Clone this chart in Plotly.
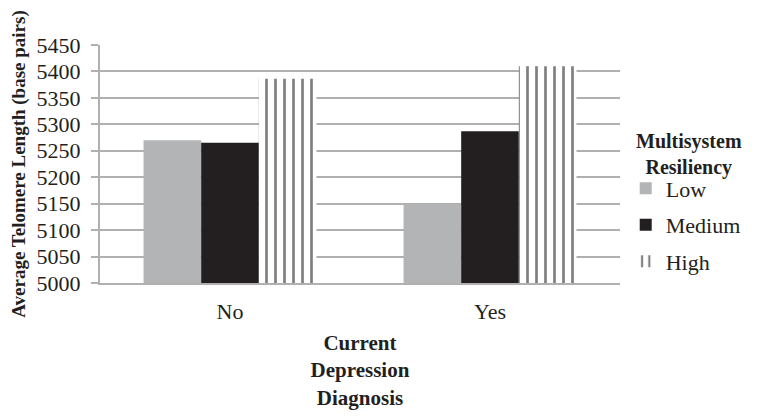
import plotly.graph_objects as go

categories = ["No", "Yes"]
series_names = ["Low", "Medium", "High"]
low_vals = [5270, 5149]
medium_vals = [5265, 5287]
high_vals = [5386, 5410]
y_ticks = [5000, 5050, 5100, 5150, 5200, 5250, 5300, 5350, 5400, 5450]

FONT = "Liberation Serif"
TXT = "#231f20"
GRID = "#b0b0b0"

fig = go.Figure()
fig.add_trace(go.Bar(name=series_names[0], x=categories, y=low_vals,
                     marker=dict(color="#b3b4b6", line=dict(width=0)),
                     legendgroup="a"))
fig.add_trace(go.Bar(name=series_names[1], x=categories, y=medium_vals,
                     marker=dict(color="#231f20", line=dict(width=0)),
                     legendgroup="b"))
fig.add_trace(go.Bar(name=series_names[2], x=categories, y=high_vals,
                     marker=dict(color="white", line=dict(width=0),
                                 pattern=dict(shape="|", fgcolor="#000000", bgcolor="white",
                                              size=9, solidity=0.3, fillmode="overlay")),
                     legendgroup="c"))

# page body has an 8px margin, so the figure is 8px smaller than the window
fig.update_layout(
    width=756, height=409,
    margin=dict(l=92, r=144, t=37, b=134, autoexpand=False),
    paper_bgcolor="white", plot_bgcolor="white",
    barmode="group", bargap=0.335, bargroupgap=0,
    font=dict(family=FONT, size=22, color=TXT),
    showlegend=True,
    legend=dict(x=1.011, y=0.486, xanchor="left", yanchor="top",
                tracegroupgap=5, itemwidth=30,
                font=dict(family=FONT, size=22, color=TXT)),
    xaxis=dict(showgrid=False, showline=True, linecolor=GRID, linewidth=2,
               ticks="", tickfont=dict(size=22), ticklabelstandoff=8,
               title=dict(text="<b>Current<br>Depression<br>Diagnosis</b>",
                          font=dict(size=21), standoff=12)),
    yaxis=dict(range=[5000, 5450], tickvals=y_ticks,
               showgrid=True, gridcolor=GRID, gridwidth=2,
               showline=True, linecolor=GRID, linewidth=2,
               ticks="outside", ticklen=7, tickcolor=GRID, tickwidth=2,
               tickfont=dict(size=22), ticklabelstandoff=6,
               title=dict(text="<b>Average Telomere Length (base pairs)</b>",
                          font=dict(size=19), standoff=8)),
    annotations=[dict(text="<b>Multisystem<br>Resiliency</b>", xref="paper", yref="paper",
                      x=1.133, y=0.542, xanchor="center", yanchor="middle",
                      showarrow=False, align="center",
                      font=dict(family=FONT, size=20, color=TXT))],
)
fig.write_html("out.html")
